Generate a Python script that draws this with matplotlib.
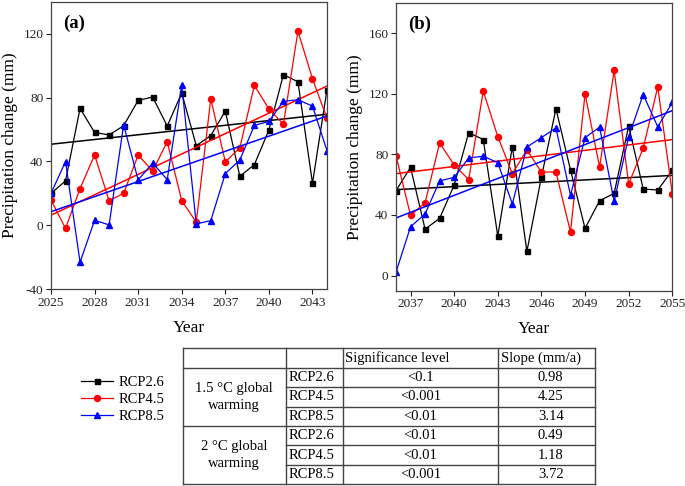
import numpy as np
import matplotlib
matplotlib.use("Agg")
import matplotlib.pyplot as plt

plt.rcParams['font.family'] = ['Liberation Serif', 'DejaVu Serif']
plt.rcParams['axes.unicode_minus'] = False

# ---------------- data ----------------
years_a = list(range(2025, 2045))
rcp26_a = [20, 27.8, 73.3, 58.2, 56.6, 62.4, 78.3, 80.4, 62.2, 82.9,
           49.9, 56.2, 71.6, 30.7, 38.0, 59.7, 94.4, 90.0, 26.3, 85.0]
rcp45_a = [15.9, -2, 23, 44, 15.4, 20, 44, 34, 52.4, 15.4,
           1.9, 79.3, 39.7, 48.6, 87.7, 72.9, 63.3, 121.7, 91.9, 67]
rcp85_a = [20, 39.9, -23.2, 3.1, 0.2, 63, 28.4, 39, 28.6, 87.9,
           0.8, 2.9, 32.4, 40.9, 62.6, 65.1, 77.7, 78.7, 74.7, 46.8]

years_b = list(range(2036, 2056))
rcp26_b = [56, 71.4, 30.6, 37.7, 59.7, 94.3, 89.7, 26, 85.1, 15.9,
           65, 110, 69.6, 31.1, 49.4, 54.2, 98.7, 57.1, 56.4, 69.4]
rcp45_b = [79.1, 39.7, 48, 87.5, 72.9, 63.3, 121.7, 91.7, 67.2, 82.9,
           68.3, 68.3, 28.7, 119.9, 71.6, 135.3, 60.4, 84, 124.5, 54]
rcp85_b = [2.2, 32.2, 40.6, 62.4, 64.8, 77.6, 78.7, 74.5, 47.2, 84.8,
           91, 97.4, 52.9, 91, 97.9, 48.9, 91.7, 119.4, 98.1, 114.2]

series_names = ['RCP2.6', 'RCP4.5', 'RCP8.5']
series_colors = ['black', 'red', 'blue']
series_markers = ['s', 'o', '^']

xticks_a = list(range(2025, 2044, 3))
xticks_b = list(range(2037, 2056, 3))
yticks_a = [-40, 0, 40, 80, 120]
yticks_b = [0, 40, 80, 120, 160]

table_groups = ['1.5 \u00b0C global\nwarming', '2 \u00b0C global\nwarming']
table_scen = ['RCP2.6', 'RCP4.5', 'RCP8.5', 'RCP2.6', 'RCP4.5', 'RCP8.5']
table_sig = ['<0.1', '<0.001', '<0.01', '<0.01', '<0.01', '<0.001']
table_slope = ['0.98', '4.25', '3.14', '0.49', '1.18', '3.72']

# ---------------- figure ----------------
W, H = 685, 486
fig = plt.figure(figsize=(W / 100, H / 100), dpi=100)


def fx(px):
    return px / W


def fy(py):
    return 1 - py / H


ax_a = fig.add_axes([fx(51), fy(289), fx(327) - fx(51), fy(2) - fy(289)])
ax_b = fig.add_axes([fx(396), fy(290.7), fx(672.3) - fx(396), fy(2.7) - fy(290.7)])

marker_sizes = [3.6, 4.3, 4.3]
handles = []
for ax, years, data in [(ax_a, years_a, [rcp26_a, rcp45_a, rcp85_a]),
                        (ax_b, years_b, [rcp26_b, rcp45_b, rcp85_b])]:
    x = np.array(years, dtype=float)
    for vals, c, m, ms, name in zip(data, series_colors, series_markers, marker_sizes, series_names):
        ln, = ax.plot(x, vals, color=c, marker=m, markersize=ms, lw=0.9, label=name)
        if ax is ax_a:
            handles.append(ln)
        k, b = np.polyfit(x, vals, 1)
        xx = np.array([x[0], x[-1]])
        ax.plot(xx, k * xx + b, color=c, lw=1.1)

for ax, xl, yl, xt, yt, lab in [(ax_a, (2025, 2044), (-40, 140), xticks_a, yticks_a, '(a)'),
                                (ax_b, (2036, 2055), (-10, 180), xticks_b, yticks_b, '(b)')]:
    ax.set_xlim(*xl)
    ax.set_ylim(*yl)
    ax.set_xticks(xt)
    ax.set_yticks(yt)
    ax.tick_params(direction='out', length=3.5, width=0.8, labelsize=9.5, colors='#222222',
                   top=False, right=False, pad=2)
    for s in ax.spines.values():
        s.set_color('#444444')
        s.set_linewidth(0.9)
    ax.set_xlabel('Year', fontsize=12.5, labelpad=8)
    ax.set_ylabel('Precipitation change (mm)', fontsize=12.5, labelpad=4)
    ax.text(0.045, 0.955, lab, transform=ax.transAxes, fontsize=13.5, fontweight='bold',
            va='top', ha='left')

# legend
fig.legend(handles=handles, labels=series_names, loc='upper left',
           bbox_to_anchor=(fx(81), fy(376)), frameon=False, fontsize=10.5,
           handlelength=2.2, handletextpad=0.35, labelspacing=0.25,
           borderpad=0, borderaxespad=0)

# table
x0, x1, x2, x3, x4 = 183, 285.7, 342.7, 498.3, 595
y_top, y_bot = 348.3, 484.3
tax = fig.add_axes([fx(x0), fy(y_bot), fx(x4) - fx(x0), fy(y_top) - fy(y_bot)])
tax.set_xlim(x0, x4)
tax.set_ylim(y_bot, y_top)
tax.axis('off')
rows = np.linspace(y_top, y_bot, 8)
lc = '#444444'
lw = 1.0
for xv in [x0, x1, x2, x3, x4]:
    tax.plot([xv, xv], [y_top, y_bot], color=lc, lw=lw, clip_on=False, solid_capstyle='projecting')
for i, yv in enumerate(rows):
    if i in (0, 1, 4, 7):
        tax.plot([x0, x4], [yv, yv], color=lc, lw=lw, clip_on=False, solid_capstyle='projecting')
    else:
        tax.plot([x1, x4], [yv, yv], color=lc, lw=lw, clip_on=False)

fs = 10.5
tax.text(x2 + 2, (rows[0] + rows[1]) / 2, 'Significance level', fontsize=fs, va='center', ha='left')
tax.text(x3 + 3, (rows[0] + rows[1]) / 2, 'Slope (mm/a)', fontsize=fs, va='center', ha='left')
for i in range(6):
    yc = (rows[i + 1] + rows[i + 2]) / 2
    tax.text(x1 + 3, yc, table_scen[i], fontsize=fs, va='center', ha='left')
    tax.text((x2 + x3) / 2, yc, table_sig[i], fontsize=fs, va='center', ha='center')
    tax.text((x3 + x4) / 2 + 4, yc, table_slope[i], fontsize=fs, va='center', ha='center')
for g in range(2):
    yc = (rows[1 + 3 * g] + rows[4 + 3 * g]) / 2
    tax.text((x0 + x1) / 2, yc, table_groups[g], fontsize=fs, va='center', ha='center',
             multialignment='center', linespacing=1.45)

fig.savefig('out.png', dpi=100)
